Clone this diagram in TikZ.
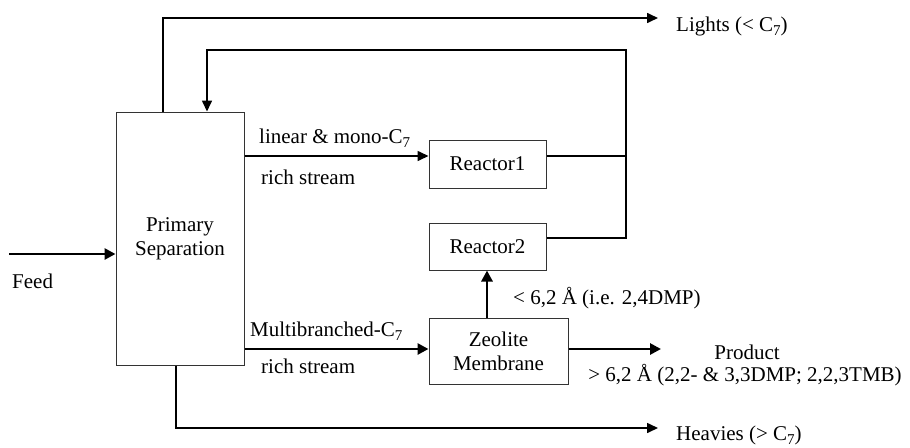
\documentclass[tikz,border=0pt]{standalone}
\usepackage{fontspec}
\setmainfont{Liberation Serif}
\usetikzlibrary{arrows.meta}
\definecolor{ink}{HTML}{000000}
\definecolor{edge}{HTML}{333333}
\newcommand{\fs}{\fontsize{21}{24}\selectfont}
\newcommand{\sub}[1]{\raisebox{-4pt}{\fontsize{15}{15}\selectfont #1}}
\tikzset{
  unit/.style={draw=edge, line width=1pt, inner sep=0pt, align=center, font=\fs},
  line/.style={draw=ink, line width=1.6pt},
  flow/.style={draw=ink, line width=1.6pt, -{Triangle[length=11pt,width=10pt]}},
  main/.style={draw=ink, line width=2.8pt, -{Triangle[length=11pt,width=11pt]}},
  lab/.style={text=ink, font=\fs, inner sep=0pt},
}

\begin{document}
\begin{tikzpicture}[x=1pt,y=-1pt]
  \useasboundingbox (0,0) rectangle (910,447);
  % units
  \node[unit,minimum width=128pt,minimum height=253pt] (sep) at (180,238.5) {Primary\\Separation};
  \node[unit,minimum width=117pt,minimum height=48pt] (r1) at (487.5,164) {Reactor1};
  \node[unit,minimum width=117pt,minimum height=47pt] (r2) at (487.5,246.5) {Reactor2};
  \node[unit,minimum width=139pt,minimum height=66pt] (zeo) at (498.5,351) {Zeolite\\Membrane};
  % stream levels and bends
  \coordinate (lin) at (0,156);
  \coordinate (rec) at (0,238);
  \coordinate (mb) at (0,349);
  \coordinate (lt) at (163,18);
  \coordinate (rin) at (207,50);
  \coordinate (rt) at (626,50);
  \coordinate (hb) at (176,428);
  \coordinate (up) at (487,0);
  \coordinate (feed) at (9,254);
  \coordinate (lights) at (658,18);
  \coordinate (heavies) at (658,428);
  \coordinate (prod) at (661,349);
  \draw[flow] (sep.north -| lt) |- (lights);
  \draw[flow] (sep.south -| hb) |- (heavies);
  \draw[line] (r1.east |- lin) -- (rt |- lin);
  \draw[flow] (r2.east |- rec) -| (rt) -| (sep.north -| rin);
  \draw[main] (feed) -- (sep.west |- feed);
  \draw[flow] (sep.east |- lin) -- (r1.west |- lin);
  \draw[main] (sep.east |- mb) -- (zeo.west |- mb);
  \draw[main] (zeo.east |- mb) -- (prod);
  \draw[main] (zeo.north -| up) -- (r2.south -| up);
  % labels
  \node[lab,anchor=base west] (llin) at (259,143) {linear \& mono-C\sub{7}};
  \node[lab,anchor=base west] (rlin) at (261,184) {rich stream};
  \node[lab,anchor=base west] (lmb) at (250,336) {Multibranched-C\sub{7}};
  \node[lab,anchor=base west] (rmb) at (261,373) {rich stream};
  \node[lab,anchor=base west] (small) at (513,304) {< 6,2 Å (i.e. 2,4DMP)};
  \node[lab,anchor=base] (lprod) at (747,359) {Product};
  \node[lab,anchor=base] (big) at (745,381) {> 6,2 Å (2,2- \& 3,3DMP; 2,2,3TMB)};
  \node[lab,anchor=base west] (lfeed) at (12,288) {Feed};
  \node[lab,anchor=base west] (llights) at (676,31) {Lights (< C\sub{7})};
  \node[lab,anchor=base west] (lheavies) at (676,440) {Heavies (> C\sub{7})};
\end{tikzpicture}
\end{document}
